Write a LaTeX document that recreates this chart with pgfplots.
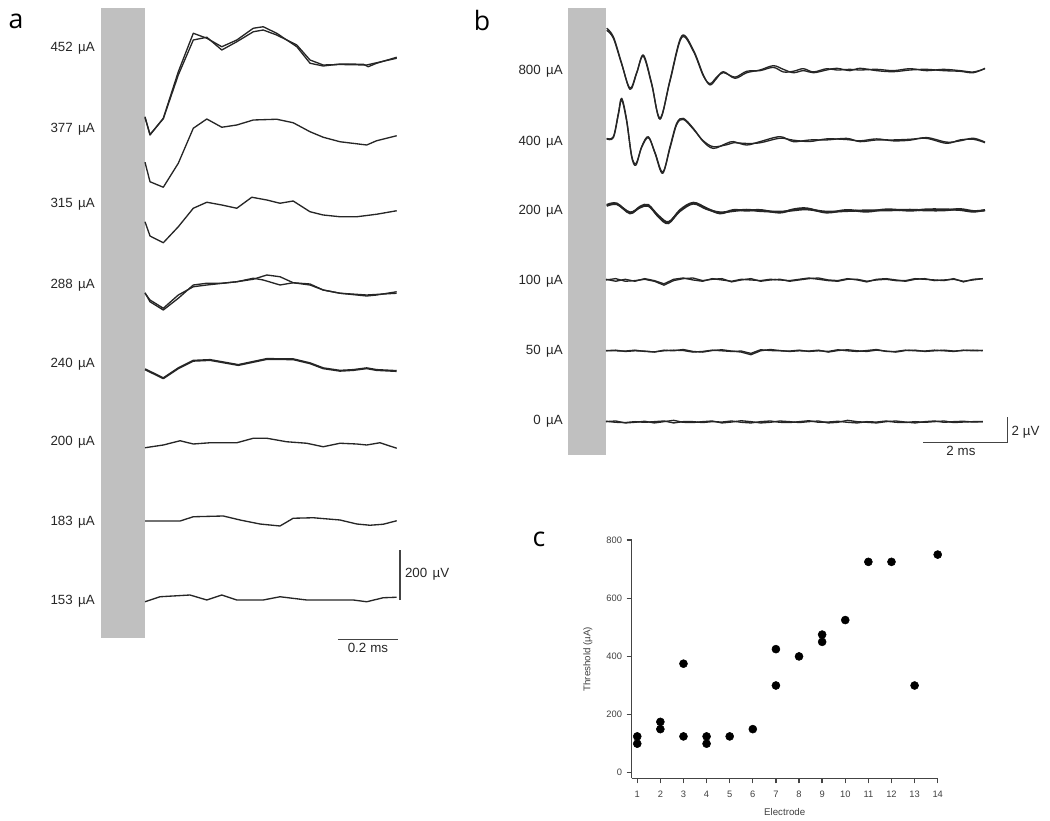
\documentclass[border=0pt]{standalone}
\usepackage{fontspec}
\setmainfont{Liberation Sans}
\newfontfamily\letterfont{Open Sans}
\usepackage{pgfplots}
\pgfplotsset{compat=1.18}
\usepackage{pgfplotstable}

\definecolor{trace}{HTML}{262626}
\definecolor{barcol}{HTML}{C0C0C0}
\definecolor{axisgray}{HTML}{444444}

\pgfplotsset{tr/.style={color=trace, line width=1pt, line join=round, mark=none}}

% panel b noise traces (t in ms, V in microvolt, two sweeps a and b)
\pgfplotstableread{
t a100 b100 a50 b50 a0 b0
0.00 13.85 13.90 8.41 8.41 2.95 2.98
0.23 13.95 13.75 8.45 8.40 3.00 2.90
0.46 13.75 13.90 8.35 8.38 2.85 2.88
0.69 13.80 13.75 8.40 8.45 2.90 2.95
0.92 13.90 13.95 8.38 8.35 2.98 2.90
1.15 13.75 13.80 8.30 8.32 2.85 2.95
1.38 13.45 13.55 8.45 8.40 2.95 3.00
1.61 13.80 13.90 8.40 8.45 3.05 2.85
1.84 13.95 14.00 8.50 8.42 2.90 2.95
2.07 14.00 13.85 8.35 8.30 2.88 2.95
2.30 13.80 13.75 8.30 8.35 2.95 2.88
2.53 13.90 13.95 8.42 8.45 3.00 2.95
2.76 13.95 13.85 8.48 8.40 2.85 2.92
2.99 13.70 13.75 8.38 8.35 2.92 3.00
3.22 13.85 13.90 8.30 8.38 3.02 2.90
3.45 13.95 13.85 8.10 8.20 2.95 2.85
3.68 13.75 13.80 8.40 8.48 2.85 2.95
3.91 13.85 13.90 8.50 8.42 2.90 3.00
4.14 13.90 13.85 8.42 8.40 3.00 2.90
4.37 13.75 13.80 8.35 8.38 2.95 2.88
4.60 13.85 13.90 8.40 8.45 2.88 2.95
4.83 13.95 14.00 8.38 8.35 2.95 3.02
5.06 14.00 13.90 8.45 8.40 3.00 2.90
5.29 13.85 13.80 8.30 8.35 2.85 2.92
5.52 13.80 13.75 8.42 8.48 2.90 2.98
5.75 13.95 13.90 8.48 8.40 3.05 2.90
5.98 13.85 13.90 8.40 8.35 2.95 2.85
6.21 13.70 13.75 8.35 8.42 2.90 2.95
6.44 13.90 13.85 8.45 8.50 2.85 2.92
6.67 13.95 13.90 8.38 8.35 2.95 3.00
6.90 13.85 13.80 8.30 8.35 3.00 2.90
7.13 13.75 13.80 8.42 8.45 2.92 2.88
7.36 13.90 13.95 8.45 8.40 2.85 2.95
7.59 13.95 13.90 8.35 8.38 2.95 2.90
7.82 13.80 13.85 8.40 8.45 3.00 2.95
8.05 13.85 13.80 8.45 8.40 2.90 3.00
8.28 13.90 13.95 8.38 8.35 2.95 2.88
8.51 13.75 13.70 8.42 8.45 2.98 2.92
8.74 13.85 13.90 8.45 8.40 2.92 2.95
8.97 13.95 13.95 8.41 8.43 2.95 2.95
}\noisetable

% panel c thresholds
\pgfplotstableread{
electrode threshold
1 125
1 100
2 175
2 150
3 375
3 125
4 125
4 100
5 125
6 150
7 425
7 300
8 400
9 475
9 450
10 525
11 725
12 725
13 300
14 750
}\thresholds

\begin{document}
\begin{tikzpicture}[x=0.75pt,y=-0.75pt]
\path (0,0) rectangle (1050,817);
% stimulus blanking bars
\fill[barcol] (101,8) rectangle (145,638);
\fill[barcol] (568,8) rectangle (606,455);
\coordinate (A0) at (145,640);
\coordinate (B0) at (606,460);
\coordinate (C0) at (631.7,778.3);

% panel letters
\node[font=\letterfont\fontsize{20}{24}\selectfont] at (16,21) {a};
\node[font=\letterfont\fontsize{20}{24}\selectfont] at (482,21) {b};
\node[font=\letterfont\fontsize{20}{24}\selectfont] at (539,539) {c};

% trace labels
\begin{scope}[every node/.style={anchor=east, font=\fontsize{10}{12}\selectfont, text=black!85, inner sep=0pt}]
\node at (95,48) {452\hspace{4pt}µA};
\node at (95,129) {377\hspace{4pt}µA};
\node at (95,204) {315\hspace{4pt}µA};
\node at (95,285) {288\hspace{4pt}µA};
\node at (95,364) {240\hspace{4pt}µA};
\node at (95,442) {200\hspace{4pt}µA};
\node at (95,522) {183\hspace{4pt}µA};
\node at (95,601) {153\hspace{4pt}µA};
\node at (563,71) {800\hspace{4pt}µA};
\node at (563,142) {400\hspace{4pt}µA};
\node at (563,211) {200\hspace{4pt}µA};
\node at (563,281) {100\hspace{4pt}µA};
\node at (563,351) {50\hspace{4pt}µA};
\node at (563,421) {0\hspace{4pt}µA};
\end{scope}

% ---------------- panel a ----------------
\begin{axis}[at={(A0)}, anchor=south west, x=225pt, y=0.1875pt,
  xmin=0, xmax=0.85, ymin=0, ymax=2560, axis lines=none, enlargelimits=false, clip=false]
\addplot[tr] coordinates {(0,2093)(0.0167,2020)(0.061,2087)(0.111,2273)(0.161,2427)(0.206,2407)(0.256,2373)(0.306,2400)(0.361,2447)(0.394,2453)(0.439,2427)(0.506,2373)(0.55,2307)(0.594,2296)(0.65,2304)(0.728,2303)(0.744,2293)(0.772,2307)(0.839,2331)};
\addplot[tr] coordinates {(0,2090)(0.0167,2022)(0.061,2085)(0.111,2260)(0.161,2400)(0.206,2411)(0.256,2360)(0.306,2393)(0.361,2433)(0.394,2440)(0.439,2420)(0.506,2380)(0.55,2320)(0.594,2300)(0.65,2302)(0.739,2300)(0.772,2309)(0.839,2327)};
\addplot[tr] coordinates {(0,1911)(0.0167,1833)(0.061,1811)(0.111,1907)(0.161,2047)(0.206,2084)(0.256,2051)(0.306,2060)(0.361,2080)(0.439,2083)(0.494,2069)(0.55,2033)(0.594,2011)(0.65,1993)(0.739,1980)(0.772,1997)(0.839,2017)};
\addplot[tr] coordinates {(0,1673)(0.0167,1616)(0.061,1589)(0.111,1653)(0.161,1727)(0.206,1751)(0.256,1740)(0.306,1727)(0.356,1771)(0.406,1760)(0.45,1747)(0.494,1756)(0.55,1713)(0.594,1700)(0.65,1693)(0.706,1693)(0.772,1703)(0.839,1717)};
\addplot[tr] coordinates {(0,1389)(0.0167,1353)(0.061,1320)(0.111,1367)(0.161,1420)(0.206,1427)(0.256,1427)(0.306,1433)(0.361,1443)(0.406,1460)(0.45,1453)(0.494,1429)(0.55,1420)(0.594,1400)(0.65,1387)(0.739,1376)(0.772,1380)(0.839,1393)};
\addplot[tr] coordinates {(0,1387)(0.0167,1360)(0.061,1327)(0.111,1380)(0.161,1413)(0.206,1420)(0.306,1433)(0.361,1447)(0.394,1440)(0.45,1420)(0.494,1429)(0.55,1424)(0.594,1400)(0.65,1387)(0.739,1380)(0.839,1387)};
\addplot[tr, line width=1.6pt] coordinates {(0,1083)(0.061,1047)(0.111,1087)(0.161,1117)(0.217,1120)(0.311,1100)(0.406,1124)(0.494,1123)(0.55,1107)(0.594,1087)(0.65,1077)(0.694,1080)(0.739,1087)(0.772,1080)(0.839,1076)};
\addplot[tr] coordinates {(0,769)(0.061,780)(0.117,797)(0.161,784)(0.217,789)(0.306,789)(0.361,807)(0.406,807)(0.472,793)(0.539,787)(0.594,773)(0.65,787)(0.706,784)(0.739,780)(0.783,789)(0.839,767)};
\addplot[tr] coordinates {(0,476)(0.117,476)(0.161,493)(0.261,496)(0.317,480)(0.383,464)(0.45,456)(0.494,487)(0.561,489)(0.65,480)(0.706,464)(0.75,459)(0.794,463)(0.839,477)};
\addplot[tr] coordinates {(0,153)(0.05,173)(0.15,180)(0.206,160)(0.256,180)(0.306,160)(0.394,160)(0.45,173)(0.539,160)(0.694,160)(0.739,153)(0.794,169)(0.839,171)};
% scale bars: 200 uV and 0.2 ms
\draw[axisgray, line width=1.1pt] (axis cs:0.85,160) -- (axis cs:0.85,360);
\draw[axisgray, line width=1.1pt] (axis cs:0.643,2.8) -- (axis cs:0.843,2.8);
\node[anchor=west, font=\fontsize{10}{12}\selectfont, text=black!85, inner sep=0pt] at (axis cs:0.866,264) {200\hspace{4pt}µV};
\node[anchor=north, font=\fontsize{10}{12}\selectfont, text=black!85, inner sep=0pt] at (axis cs:0.743,-13) {0.2\hspace{3pt}ms};
\end{axis}

% ---------------- panel b ----------------
\begin{axis}[at={(B0)}, anchor=south west, x=31.5pt, y=9.75pt,
  xmin=0, xmax=9.1, ymin=0, ymax=35.4, axis lines=none, enlargelimits=false, clip=false]
\addplot[tr, smooth, tension=0.55] coordinates {(0.016,33.21)(0.175,32.56)(0.373,30.51)(0.571,28.51)(0.730,29.74)(0.889,31.15)(1.087,28.97)(1.286,26.21)(1.524,29.23)(1.802,32.62)(2.079,31.54)(2.317,29.62)(2.476,28.85)(2.635,29.36)(2.794,29.87)(3.071,29.36)(3.349,29.79)(3.667,30.0)(3.984,30.33)(4.222,30.05)(4.460,29.79)(4.698,29.95)(4.937,29.79)(5.254,30.0)(5.492,30.13)(5.810,29.95)(6.048,30.13)(6.444,29.95)(6.841,29.87)(7.238,30.0)(7.635,30.05)(8.032,29.95)(8.429,29.90)(8.746,29.79)(9.024,30.13)};
\addplot[tr, smooth, tension=0.55] coordinates {(0.016,33.05)(0.175,32.45)(0.373,30.45)(0.571,28.60)(0.730,29.80)(0.889,31.05)(1.087,28.90)(1.286,26.30)(1.524,29.15)(1.802,32.50)(2.079,31.45)(2.317,29.55)(2.476,28.95)(2.635,29.45)(2.794,29.80)(3.071,29.45)(3.349,29.90)(3.667,29.95)(3.984,30.20)(4.222,29.85)(4.460,29.90)(4.698,30.10)(4.937,29.85)(5.254,30.10)(5.492,30.00)(5.810,30.05)(6.048,30.00)(6.444,30.05)(6.841,29.95)(7.238,30.10)(7.635,29.95)(8.032,30.05)(8.429,29.95)(8.746,29.85)(9.024,30.10)};
\addplot[tr, smooth, tension=0.55] coordinates {(0.016,24.74)(0.175,24.87)(0.294,26.67)(0.373,27.82)(0.492,26.15)(0.611,23.33)(0.714,22.69)(0.849,24.10)(1.008,24.87)(1.167,23.59)(1.349,22.05)(1.524,24.10)(1.683,25.90)(1.841,26.28)(2.079,25.51)(2.317,24.49)(2.556,23.97)(2.873,24.36)(3.032,24.49)(3.349,24.23)(3.667,24.49)(4.143,24.87)(4.460,24.49)(4.857,24.62)(5.254,24.62)(5.730,24.74)(6.048,24.49)(6.444,24.62)(6.841,24.62)(7.238,24.67)(7.635,24.74)(8.111,24.36)(8.429,24.62)(8.746,24.67)(9.024,24.41)};
\addplot[tr, smooth, tension=0.55] coordinates {(0.016,24.70)(0.175,24.80)(0.294,26.55)(0.373,27.70)(0.492,26.05)(0.611,23.40)(0.714,22.80)(0.849,24.05)(1.008,24.80)(1.167,23.65)(1.349,22.15)(1.524,24.00)(1.683,25.80)(1.841,26.20)(2.079,25.45)(2.317,24.55)(2.556,24.10)(2.873,24.25)(3.032,24.40)(3.349,24.35)(3.667,24.40)(4.143,24.75)(4.460,24.60)(4.857,24.50)(5.254,24.70)(5.730,24.65)(6.048,24.55)(6.444,24.70)(6.841,24.55)(7.238,24.60)(7.635,24.80)(8.111,24.45)(8.429,24.55)(8.746,24.75)(9.024,24.45)};
\addplot[tr, smooth, tension=0.55, line width=1.5pt] coordinates {(0.016,19.62)(0.254,19.74)(0.571,18.97)(0.810,19.49)(1.008,19.62)(1.246,18.72)(1.484,18.21)(1.762,19.23)(2.079,19.79)(2.397,19.36)(2.714,18.97)(3.032,19.23)(3.349,19.18)(3.667,19.23)(4.143,19.03)(4.460,19.28)(4.778,19.36)(5.254,19.03)(5.730,19.23)(6.206,19.10)(6.683,19.28)(7.238,19.18)(7.635,19.28)(8.032,19.28)(8.429,19.23)(8.746,19.10)(9.024,19.23)};
\addplot[tr, smooth, tension=0.55, line width=1.5pt] coordinates {(0.016,19.55)(0.254,19.68)(0.571,19.05)(0.810,19.42)(1.008,19.55)(1.246,18.80)(1.484,18.30)(1.762,19.15)(2.079,19.72)(2.397,19.30)(2.714,19.05)(3.032,19.15)(3.349,19.25)(3.667,19.15)(4.143,19.10)(4.460,19.20)(4.778,19.28)(5.254,19.10)(5.730,19.15)(6.206,19.20)(6.683,19.20)(7.238,19.25)(7.635,19.20)(8.032,19.20)(8.429,19.30)(8.746,19.15)(9.024,19.20)};
\addplot[tr] table[x=t, y=a100] {\noisetable};
\addplot[tr] table[x=t, y=b100] {\noisetable};
\addplot[tr] table[x=t, y=a50] {\noisetable};
\addplot[tr] table[x=t, y=b50] {\noisetable};
\addplot[tr] table[x=t, y=a0] {\noisetable};
\addplot[tr] table[x=t, y=b0] {\noisetable};
% scale bars: 2 uV and 2 ms
\draw[axisgray, line width=1.1pt] (axis cs:9.555,1.33) -- (axis cs:9.555,3.33);
\draw[axisgray, line width=1.1pt] (axis cs:7.555,1.33) -- (axis cs:9.555,1.33);
\node[anchor=west, font=\fontsize{10}{12}\selectfont, text=black!85, inner sep=0pt] at (axis cs:9.65,2.15) {2\hspace{3pt}µV};
\node[anchor=north, font=\fontsize{10}{12}\selectfont, text=black!85, inner sep=0pt] at (axis cs:8.45,1.05) {2\hspace{3pt}ms};
\end{axis}

% ---------------- panel c ----------------
\begin{axis}[at={(C0)}, anchor=south west, scale only axis, width=229.5pt, height=178.7pt,
  xmin=0.76, xmax=14, ymin=-19, ymax=800,
  axis x line*=bottom, axis y line*=left,
  axis line style={axisgray, line width=1pt},
  xtick={1,...,14}, ytick={0,200,400,600,800},
  tick align=outside, major tick length=3.75pt,
  tick style={axisgray, line width=1pt},
  /pgf/number format/assume math mode=true,
  ticklabel style={font=\fontsize{7}{8}\selectfont, text=black!75},
  xticklabel style={yshift=-2pt},
  xlabel={Electrode}, ylabel={Threshold (µA)},
  every axis x label/.style={at={(axis description cs:0.5,-0.143)}, anchor=center, font=\fontsize{7.3}{9}\selectfont, text=black!75},
  every axis y label/.style={at={(axis description cs:-0.143,0.5)}, anchor=center, rotate=90, font=\fontsize{7.3}{9}\selectfont, text=black!75},
  clip=false]
\addplot[only marks, mark=*, mark size=3pt, black] table[x=electrode, y=threshold] {\thresholds};
\end{axis}
\end{tikzpicture}
\end{document}
